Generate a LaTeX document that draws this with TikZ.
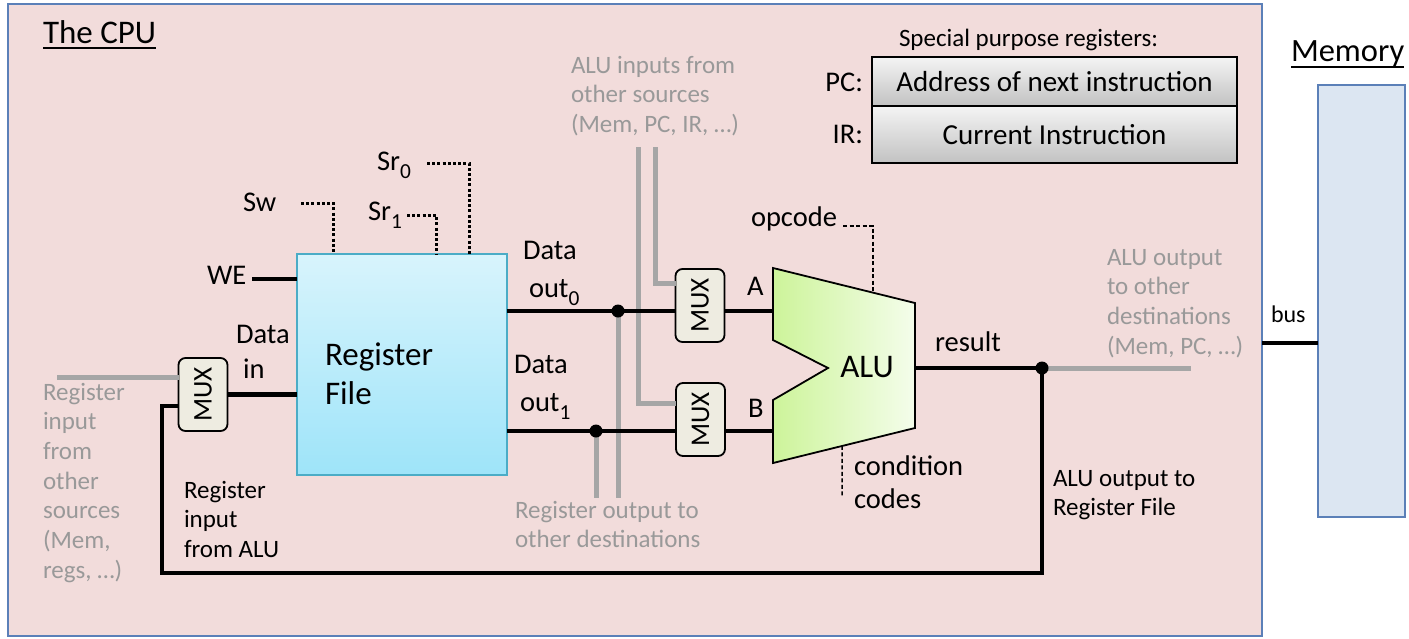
\documentclass[tikz,border=0pt]{standalone}
\usepackage{fontspec}
\setmainfont{Carlito}
\usepackage{graphicx}
\usetikzlibrary{calc}
\definecolor{cpufill}{HTML}{F2DCDB}
\definecolor{boxblue}{HTML}{5B80B8}
\definecolor{memfill}{HTML}{DCE6F2}
\definecolor{muxfill}{HTML}{EEECE1}
\definecolor{gwire}{HTML}{A6A6A6}
\definecolor{gtext}{HTML}{999999}
\definecolor{rftop}{HTML}{D8F4FC}
\definecolor{rfbot}{HTML}{9EE4F9}
\definecolor{rfdraw}{HTML}{4BACC6}
\definecolor{aluL}{HTML}{CDF49A}
\definecolor{aluR}{HTML}{F4FDEB}
\definecolor{regtop}{HTML}{F4F4F4}
\definecolor{regbot}{HTML}{C2C2C2}
\newcommand\ml[2][l]{\begin{tabular}[t]{@{}#1@{}}#2\end{tabular}}
\newcommand\sbx[1]{\raisebox{-0.3em}{\scalebox{0.75}{#1}}}
\newcommand\fs[2]{\fontsize{#1}{#2}\selectfont}
\begin{document}
\begin{tikzpicture}[x=1pt,y=-1pt,
  every node/.style={inner sep=0pt, outer sep=0pt},
  t27/.style={font=\fs{28.5}{38}, anchor=base west},
  t24/.style={font=\fs{25}{29.7}, anchor=base west},
  gt/.style={t24, text=gtext},
  wire/.style={line width=4.5pt},
  thinwire/.style={line width=3.5pt},
  gw/.style={line width=5pt, draw=gwire},
  ctrl/.style={line width=3pt, dash pattern=on 3pt off 2.2pt},
  dsh/.style={line width=1.5pt, dash pattern=on 4pt off 2.5pt},
  mux/.style={draw, line width=1.8pt, rounded corners=7pt, fill=muxfill, minimum width=49pt, minimum height=73pt, font=\fs{27}{27}},
  dot/.style={circle, fill=black, minimum size=13pt},
  reg/.style={draw, line width=1.8pt, top color=regtop, bottom color=regbot, minimum width=365pt, font=\fs{29}{30}},
  ]
\fill[white] (0,0) rectangle (1409,638);
\useasboundingbox (0,0) rectangle (1409,638);

% containers
\node[draw=boxblue, line width=2pt, fill=cpufill, minimum width=1254pt, minimum height=632pt] (cpu) at (635,320) {};
\node[draw=boxblue, line width=1.8pt, fill=memfill, minimum width=87pt, minimum height=432pt] (mem) at (1361.5,301) {};

% titles
\node[font=\fs{33}{38}, anchor=base west] (tcpu) at (43,43) {The CPU};
\draw[line width=1.8pt] ([yshift=-5pt]tcpu.base west) -- ([yshift=-5pt]tcpu.base east);
\node[font=\fs{32.5}{38}, anchor=base west] (tmem) at (1291,61) {Memory};
\draw[line width=1.8pt] ([yshift=-6pt]tmem.base west) -- ([yshift=-6pt]tmem.base east);

% special purpose registers
\node[font=\fs{25}{28}, anchor=base west] (tspec) at (899,46) {Special purpose registers:};
\node[reg, minimum height=49pt, anchor=north] (pc) at (1054.5,57) {Address of next instruction};
\node[reg, minimum height=57pt, anchor=north] (ir) at (pc.south) {Current Instruction};
\node[font=\fs{28.5}{30}, anchor=base east] (tpc) at (863,91) {PC:};
\node[font=\fs{28.5}{30}, anchor=base east] (tir) at (863,143) {IR:};

% register file
\node[draw=rfdraw, line width=1.5pt, top color=rftop, bottom color=rfbot, minimum width=210pt, minimum height=221pt] (rf) at (402,364.5) {};
\node[font=\fs{33}{39}, anchor=base west] (rft) at (325,365) {\ml{Register\\File}};

% muxes
\node[mux] (mux0) at (203,394.5) {\rotatebox{90}{MUX}};
\node[mux] (muxA) at (700,305.5) {\rotatebox{90}{MUX}};
\node[mux] (muxB) at (700.5,419.5) {\rotatebox{90}{MUX}};

% ALU
\coordinate (alu1) at (773,268);
\coordinate (alu2) at (915,303);
\coordinate (alu3) at (915,428);
\coordinate (alu4) at (773,463);
\coordinate (alu5) at (773,400);
\coordinate (alu6) at (828,368);
\coordinate (alu7) at (773,340);
\coordinate (aluA) at (773,311);
\coordinate (aluB) at (773,431);
\coordinate (aluO) at (915,368);
\draw[line width=1.8pt, left color=aluL, right color=aluR] (alu1) -- (alu2) -- (alu3) -- (alu4) -- (alu5) -- (alu6) -- (alu7) -- cycle;
\node[font=\fs{33}{38}] (alut) at (867,367) {ALU};

% junction dots
\coordinate (d0) at (618,311);
\coordinate (d1) at (596,431);
\coordinate (d2) at (1042,368);

% gray wires
\coordinate (ginA) at (655,147);
\coordinate (ginB) at (638,147);
\draw[gw] (ginA) |- ([yshift=22.5pt]muxA.west);
\draw[gw] (ginB) |- ([yshift=16.5pt]muxB.west);
\coordinate (ro0) at (618,498);
\coordinate (ro1) at (596,498);
\draw[gw] (d0) -- (ro0);
\draw[gw] (d1) -- (ro1);
\coordinate (aout) at (1191,368);
\draw[gw] (d2) -- (aout);
\coordinate (grin) at (57,377);
\draw[gw] (grin) -- ([yshift=17.5pt]mux0.west);

% black wires
\draw[wire] (rf.east |- d0) -- (muxA.west |- d0);
\draw[wire] (rf.east |- d1) -- (muxB.west |- d1);
\draw[wire] (muxA.east |- aluA) -- (aluA);
\draw[wire] (muxB.east |- aluB) -- (aluB);
\draw[wire] (aluO) -- (d2);
\coordinate (fbl) at (162,573);
\draw[wire] (d2) |- (fbl) |- ([yshift=-11.5pt]mux0.west);
\draw[wire] (mux0.east) -- (rf.west |- mux0.east);
\coordinate (busy) at (0,343);
\draw[wire] (cpu.east |- busy) -- (mem.west |- busy);

\node[dot] (dot0) at (d0) {};
\node[dot] (dot1) at (d1) {};
\node[dot] (dot2) at (d2) {};

% control signals
\node[t27] (sw) at (243,211) {Sw};
\node[t27] (sr1) at (368,220) {Sr\sbx{1}};
\node[t27] (sr0) at (377,170) {Sr\sbx{0}};
\node[t27] (we) at (207,284) {WE};
\coordinate (swc) at (301,203);
\coordinate (sr1c) at (407,215);
\coordinate (sr0c) at (427,163);
\coordinate (wec) at (252,279);
\draw[ctrl] (swc) -| (rf.north -| 333,0);
\draw[ctrl] (sr1c) -| (rf.north -| 436,0);
\draw[ctrl] (sr0c) -| (rf.north -| 469,0);
\draw[thinwire] (wec) -- (rf.west |- wec);

% opcode / condition codes
\coordinate (opc) at (843,226);
\draw[dsh] (opc) -| ($(alu1)!0.704!(alu2)$);
\coordinate (ccb) at (842,497);
\draw[dsh] ($(alu4)!0.486!(alu3)$) -- (ccb);
\node[t27] (topc) at (751,226) {opcode};
\node[t27, font=\fs{28.5}{33}] (tcc) at (854,475) {\ml{condition\\codes}};

% labels
\node[t27] (tdo0) at (523,259) {\ml{Data\\\hspace{6pt}out\sbx{0}}};
\node[t27] (tdo1) at (514,373) {\ml{Data\\\hspace{6pt}out\sbx{1}}};
\node[t27, font=\fs{28.5}{35}] (tdin) at (236,343) {\ml{Data\\\hspace{7pt}in}};
\node[t27] (ta) at (747,295) {A};
\node[t27] (tb) at (748,417) {B};
\node[t27] (tres) at (935,351) {result};
\node[t24, font=\fs{24}{29}] (tbus) at (1271,322) {bus};
\node[t24, font=\fs{25}{29.5}] (trfa) at (184,498) {\ml{Register\\input\\from ALU}};
\node[t24, font=\fs{25}{29}] (taor) at (1053,486) {\ml{ALU output to\\Register File}};
\node[gt] (tgin) at (571,73) {\ml{ALU inputs from\\other sources\\(Mem, PC, IR, …)}};
\node[gt] (tgout) at (1107,265) {\ml{ALU output\\to other\\destinations\\(Mem, PC, …)}};
\node[gt, font=\fs{25}{29}] (tgro) at (515,518) {\ml{Register output to\\other destinations}};
\node[gt] (tgri) at (43,400) {\ml{Register\\input\\from\\other\\sources\\(Mem,\\regs, …)}};
\end{tikzpicture}
\end{document}
